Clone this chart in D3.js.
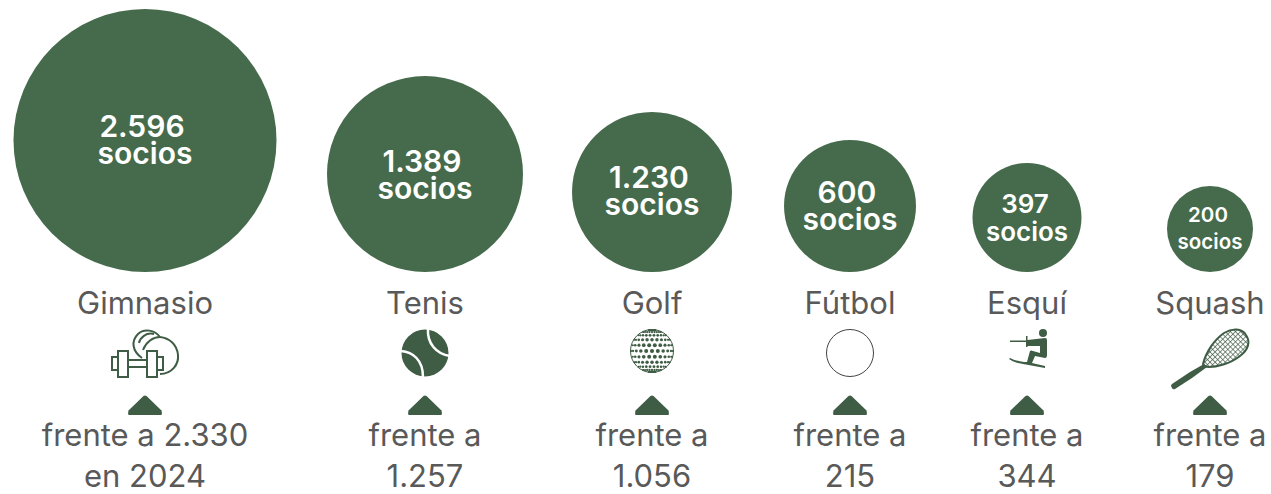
<!DOCTYPE html>
<html><head><meta charset="utf-8">
<script src="https://cdn.jsdelivr.net/npm/d3@7/dist/d3.min.js"></script>
<style>html,body{margin:0;background:#fff}svg{display:block}text{font-family:Inter,Lato,sans-serif;text-anchor:middle}</style>
</head><body><svg id="c" width="1271" height="494"></svg>
<script>
const categories=["Gimnasio","Tenis","Golf","Fútbol","Esquí","Squash"];
const members=[2596,1389,1230,600,397,200];
const memberLabels=["2.596","1.389","1.230","600","397","200"];
const previousLine1=["frente a 2.330","frente a","frente a","frente a","frente a","frente a"];
const previousLine2=["en 2024","1.257","1.056","215","344","179"];
const unit="socios";
const GREEN="#466b4c",DARK="#3f5c45",GREY="#595959";
const svg=d3.select("#c");
const x=d3.scaleOrdinal().domain(categories).range([145,425,652,850,1027,1210]);
const r=d3.scaleLinear().domain([200,397,600,1230,1389,2596]).range([43,54.5,66,80,98,131.5]);
const fs=d3.scaleThreshold().domain([300,500]).range([20.5,26,30]);
const baseY=272;
const numOff=[-4,-2,-4,-3,-5,-7], unitOff=[23,25,23,24,23,20];
const g=svg.selectAll("g.item").data(categories).join("g").attr("class","item").attr("transform",d=>`translate(${x(d)},0)`);
g.append("circle").attr("cy",(d,i)=>baseY-r(members[i])).attr("r",(d,i)=>r(members[i])).attr("fill",GREEN);
g.append("text").attr("x",(d,i)=>i<4?-3:-2).attr("y",(d,i)=>baseY-r(members[i])+numOff[i]).attr("font-size",(d,i)=>fs(members[i])).attr("font-weight",600).attr("fill","#fff").text((d,i)=>memberLabels[i]);
g.append("text").attr("y",(d,i)=>baseY-r(members[i])+unitOff[i]).attr("font-size",(d,i)=>fs(members[i])).attr("font-weight",600).attr("fill","#fff").text(unit);
g.append("text").attr("y",314).attr("font-size",31).attr("fill",GREY).text(d=>d);
g.append("path").attr("d","M-16.5,13.5 L-1.5,-1 Q0,-2 1.5,-1 L16.5,13.5 Q17.5,18 16,18 L-16,18 Q-17.5,18 -16.5,13.5Z").attr("transform","translate(0,397)").attr("fill",DARK);
g.append("text").attr("y",446).attr("font-size",31).attr("fill",GREY).text((d,i)=>previousLine1[i]);
g.append("text").attr("y",487).attr("font-size",31).attr("fill",GREY).text((d,i)=>previousLine2[i]);

// icons
const ic=c=>svg.append("g").attr("transform",`translate(${x(c)},0)`);
// gym
const a=ic("Gimnasio").attr("fill","none").attr("stroke",DARK).attr("stroke-width",2);
a.append("path").attr("d","M-33,357 v13 h6 v-13z M-27,351 v26 h10 v-26z M-17,360 h19 M-17,367 h19 M2,351 v26 h10 v-26z M12,357 v13 h6 v-13z");
a.append("path").attr("d","M15,374 C27,374 34,364 33,355 C32,344 24,338 15,337 C10,330 -1,328 -7,334 C-14,341 -13,351 -3,358");
a.append("path").attr("d","M-6,343 C-5,338 1,332 9,334 M-2,350 C1,342 8,337 15,337");
// tennis
const t=ic("Tenis");
t.append("circle").attr("cy",353).attr("r",23.5).attr("fill",DARK);
t.append("path").attr("d","M3,329 C2,343 11,354 25,356 M-24,351 C-12,352 -2,360 -2,377").attr("fill","none").attr("stroke","#fff").attr("stroke-width",2.5);
// golf
const go=ic("Golf");
go.append("circle").attr("cy",351).attr("r",21.5).attr("fill","#fff").attr("stroke",DARK).attr("stroke-width",1);
const dimpleRows=d3.range(-5,6), dimpleCols=d3.range(-5,6);
dimpleRows.forEach(ro=>{const yy=Math.sin(ro/5.6*Math.PI/2)*21;
 const w=Math.sqrt(Math.max(0,441-yy*yy));
 dimpleCols.forEach(co=>{const off=(Math.abs(ro)%2?0.5:0);const u=(co+off)/5.6;
  if(Math.abs(u)>=1)return;
  const xx=Math.sin(u*Math.PI/2)*w;
  const rd=2.1*(1-0.55*(xx*xx+yy*yy)/441);
  go.append("circle").attr("cx",xx).attr("cy",351+yy).attr("r",rd).attr("fill",DARK);});});
// football
ic("Fútbol").append("circle").attr("cy",353).attr("r",23.5).attr("fill","#fff").attr("stroke","#444").attr("stroke-width",1);
// ski
const s=ic("Esquí");
s.append("circle").attr("cx",16).attr("cy",333).attr("r",4).attr("fill",DARK);
s.append("path").attr("d","M-17,340.5 L-1,340.5 L-1,336 L0.5,336 L0.5,340 L18,338 Q20,338 20,340 L20,355 Q20,358 18,358 L8,356 L5,363 L18,366 L18,368 L-4,364 Q-13,363 -18,359 L-17,358 Q-11,361 -3,362 L-0,362 L3,351 Q4,350 6,351 L13,353 L13,346 L0.5,346 L0.5,347 L-1,347 L-1,342 L-17,342Z").attr("fill",DARK);
// squash
const q=ic("Squash");
const defs=svg.append("defs");
const pat=defs.append("pattern").attr("id","h").attr("width",3.6).attr("height",3.6).attr("patternUnits","userSpaceOnUse").attr("patternTransform","rotate(45)");
pat.append("rect").attr("width",3.6).attr("height",3.6).attr("fill","#fff");
pat.append("path").attr("d","M0,0H3.6M0,0V3.6").attr("stroke",DARK).attr("stroke-width",1.3);
q.append("path").attr("d","M-7,364 C-4,352 4,340 14,333 C22,328 32,328 36,335 C41,342 38,350 30,356 C20,364 6,367 -1,367 C-4,367 -6,366 -7,364Z").attr("fill","url(#h)").attr("stroke",DARK).attr("stroke-width",2);
q.append("path").attr("d","M-6,364 L-3,367 L-18,378 L-35,389 Q-37,390 -38,388 L-39,386 Q-39,385 -38,384 L-20,372Z").attr("fill",DARK);
</script></body></html>
